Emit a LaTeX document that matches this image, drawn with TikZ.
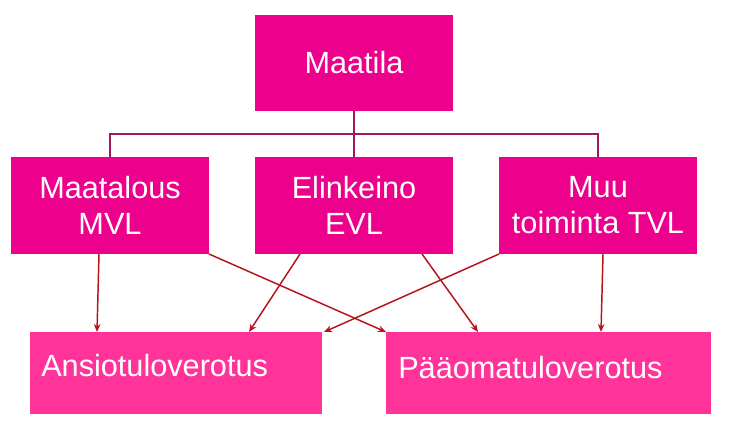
\documentclass[tikz,border=0pt]{standalone}
\usepackage{fontspec}
\usetikzlibrary{arrows.meta}
\setmainfont{Liberation Sans}
\definecolor{mag}{HTML}{EC008C}
\definecolor{pink}{HTML}{FF3399}
\definecolor{tree}{HTML}{A3195B}
\definecolor{arr}{HTML}{B5121B}
\begin{document}
\begin{tikzpicture}[x=0.75pt,y=-0.75pt,
 box/.style={fill=mag,draw=none,inner sep=0pt,text=white,font=\fontsize{23}{27}\selectfont,align=center},
 low/.style={fill=pink,draw=none,inner sep=0pt,text=white,font=\fontsize{23}{27}\selectfont},
 tr/.style={draw=tree,line width=1.5pt},
 ar/.style={draw=arr,line width=1.1pt,-{Stealth[length=6pt,width=5pt]}}]
\useasboundingbox (0,0) rectangle (741,428);
\node[box,minimum width=148.5pt,minimum height=72pt] (top) at (354,63) {Maatila};
\node[box,minimum width=148.5pt,minimum height=72.75pt] (a) at (110,205.5) {Maatalous\\MVL};
\node[box,minimum width=148.5pt,minimum height=72.75pt] (b) at (354,205.5) {Elinkeino\\EVL};
\node[box,minimum width=148.5pt,minimum height=72.75pt] (c) at (598,205.5) {Muu\\toiminta TVL};
\node[low,minimum width=219pt,minimum height=61.5pt] (p) at (176,373) {};
\node[low,minimum width=243.75pt,minimum height=61.5pt] (q) at (548.5,373) {};
\node[text=white,font=\fontsize{23}{27}\selectfont,anchor=west,inner sep=0pt] (pt) at (41,366) {Ansiotuloverotus};
\node[text=white,font=\fontsize{23}{27}\selectfont,anchor=west,inner sep=0pt] (qt) at (398,368) {Pääomatuloverotus};
\coordinate (j) at (354,134);
\draw[tr] (top.south) -- (j);
\draw[tr] (a.north) -- (110,134) -- (598,134) -- (c.north);
\draw[tr] (j) -- (b.north);
\draw[ar] (99,254) -- (97,332);
\draw[ar] (209,254) -- (386,332);
\draw[ar] (300,254) -- (249,332);
\draw[ar] (422,254) -- (478,332);
\draw[ar] (499,254) -- (324,332);
\draw[ar] (603,254) -- (601,332);
\end{tikzpicture}
\end{document}
